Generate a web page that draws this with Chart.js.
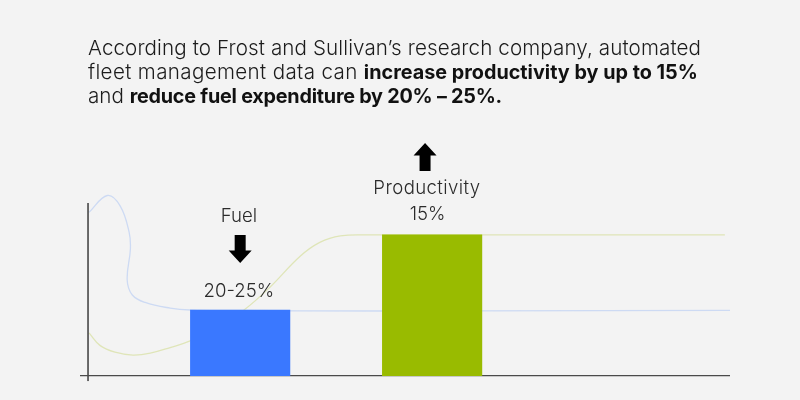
<!DOCTYPE html>
<html>
<head>
<meta charset="utf-8">
<script src="https://cdn.jsdelivr.net/npm/chart.js@4"></script>
<style>
    html, body { margin: 0; padding: 0; background: #f3f3f3; overflow: hidden; }
    #wrap { position: relative; width: 800px; height: 400px; }
    #salesChart { position: absolute; left: 0; top: 0; }
    #title {
        position: absolute; left: 88px; top: 36px; width: 680px;
        font-family: Inter, sans-serif; font-size: 20.6px; font-weight: 300; line-height: 23.5px;
        color: #1c1c1c; white-space: nowrap;
    }
    #title b { font-size: 19.8px; font-weight: 700; color: #111; letter-spacing: 0; }
    #title .first { letter-spacing: 0.11px; }
    #title .second { letter-spacing: 0.35px; }
    #title .third b { letter-spacing: -0.23px; }
</style>
</head>
<body>
<div id="wrap">
    <canvas id="salesChart" width="800" height="400"></canvas>
    <div id="title">
        <span class="first">According to Frost and Sullivan’s research company, automated</span><br>
        <span class="second">fleet management data can <b>increase productivity by up to 15%</b></span><br>
        <span class="third">and <b>reduce fuel expenditure by 20% – 25%.</b></span>
    </div>
</div>
<script>
const barPositions = [23.7, 53.6];
const barValues = [7, 15];
const barColors = ["#3a78ff", "#99bb00"];

const blueCurveX = [0.15, 3.0, 5.0, 6.4, 6.6, 6.1, 6.9, 8.9, 12.8, 15.9, 24, 33, 60, 100];
const blueCurveY = [17.4, 19.2, 18.1, 15.3, 13.5, 10.2, 8.6, 7.8, 7.2, 7.0, 6.95, 6.9, 6.9, 6.95];

const greenCurveX = [0.15, 1.9, 4.2, 7.0, 9.7, 12.8, 15.9, 20.2, 24.3, 28.3, 33, 36.1, 39.3, 43.9, 64.2, 99.2];
const greenCurveY = [4.56, 3.2, 2.5, 2.2, 2.4, 3.0, 3.7, 5.2, 7.0, 9.4, 12.7, 14.2, 14.9, 15, 15, 15];

const labelTexts = ["Fuel", "20-25%", "Productivity", "15%"];
const labelX = [23.5, 23.5, 52.8, 52.9];
const labelY = [17.0, 9.0, 20.0, 17.2];

const arrowX = [23.7, 52.5];
const arrowTip = [12.0, 24.8];
const arrowTail = [15, 21.8];

const toPoints = (xs, ys) => xs.map((x, i) => ({ x: x, y: ys[i] }));

const overlayPlugin = {
    id: "overlay",
    afterDatasetsDraw(chart) {
        const c = chart.ctx;
        const xs = chart.scales.x;
        const ys = chart.scales.y;
        c.save();
        c.fillStyle = "#2b2b2b";
        c.font = "300 18.6px Inter, sans-serif";
        c.textAlign = "center";
        c.textBaseline = "middle";
        labelTexts.forEach((t, i) => {
            c.letterSpacing = t.length > 10 ? "0.4px" : "0px";
            c.fillText(t, xs.getPixelForValue(labelX[i]), ys.getPixelForValue(labelY[i]));
        });
        // Arrows
        c.fillStyle = "#000";
        arrowX.forEach((x, i) => {
            const px = xs.getPixelForValue(x);
            const tip = ys.getPixelForValue(arrowTip[i]);
            const tail = ys.getPixelForValue(arrowTail[i]);
            const dir = tail > tip ? 1 : -1;
            const neck = tip + dir * 12.5;
            c.beginPath();
            c.moveTo(px, tip);
            c.lineTo(px + 11.5, neck);
            c.lineTo(px + 5.5, neck);
            c.lineTo(px + 5.5, tail);
            c.lineTo(px - 5.5, tail);
            c.lineTo(px - 5.5, neck);
            c.lineTo(px - 11.5, neck);
            c.closePath();
            c.fill();
        });
        c.restore();
    }
};

new Chart(document.getElementById("salesChart").getContext("2d"), {
    data: {
        datasets: [
            {
                type: "bar",
                data: toPoints(barPositions, barValues),
                backgroundColor: barColors,
                barThickness: 99.5,
                order: 0
            },
            {
                type: "line",
                data: toPoints(blueCurveX, blueCurveY),
                borderColor: "#cddaf3",
                borderWidth: 1.3,
                pointRadius: 0,
                tension: 0.4,
                order: 2
            },
            {
                type: "line",
                data: toPoints(greenCurveX, greenCurveY),
                borderColor: "#dfe5b8",
                borderWidth: 1.3,
                pointRadius: 0,
                tension: 0.4,
                order: 2
            },
            {
                // x axis line
                type: "line",
                data: [{ x: -1.25, y: 0 }, { x: 100, y: 0 }],
                borderColor: "#4a4a4a",
                borderWidth: 1.4,
                pointRadius: 0,
                order: 1
            },
            {
                // y axis line
                type: "line",
                data: [{ x: 0, y: -0.6 }, { x: 0, y: 18.4 }],
                borderColor: "#2e2e2e",
                borderWidth: 1.4,
                pointRadius: 0,
                order: 1
            }
        ]
    },
    options: {
        responsive: false,
        animation: false,
        layout: { padding: { left: 80, right: 70, top: 188, bottom: 18.7 } },
        plugins: { legend: { display: false }, tooltip: { enabled: false } },
        scales: {
            x: { type: "linear", min: -1.25, max: 100, offset: false, display: false },
            y: { type: "linear", min: -0.6, max: 20, display: false }
        }
    },
    plugins: [overlayPlugin]
});
</script>
</body>
</html>
